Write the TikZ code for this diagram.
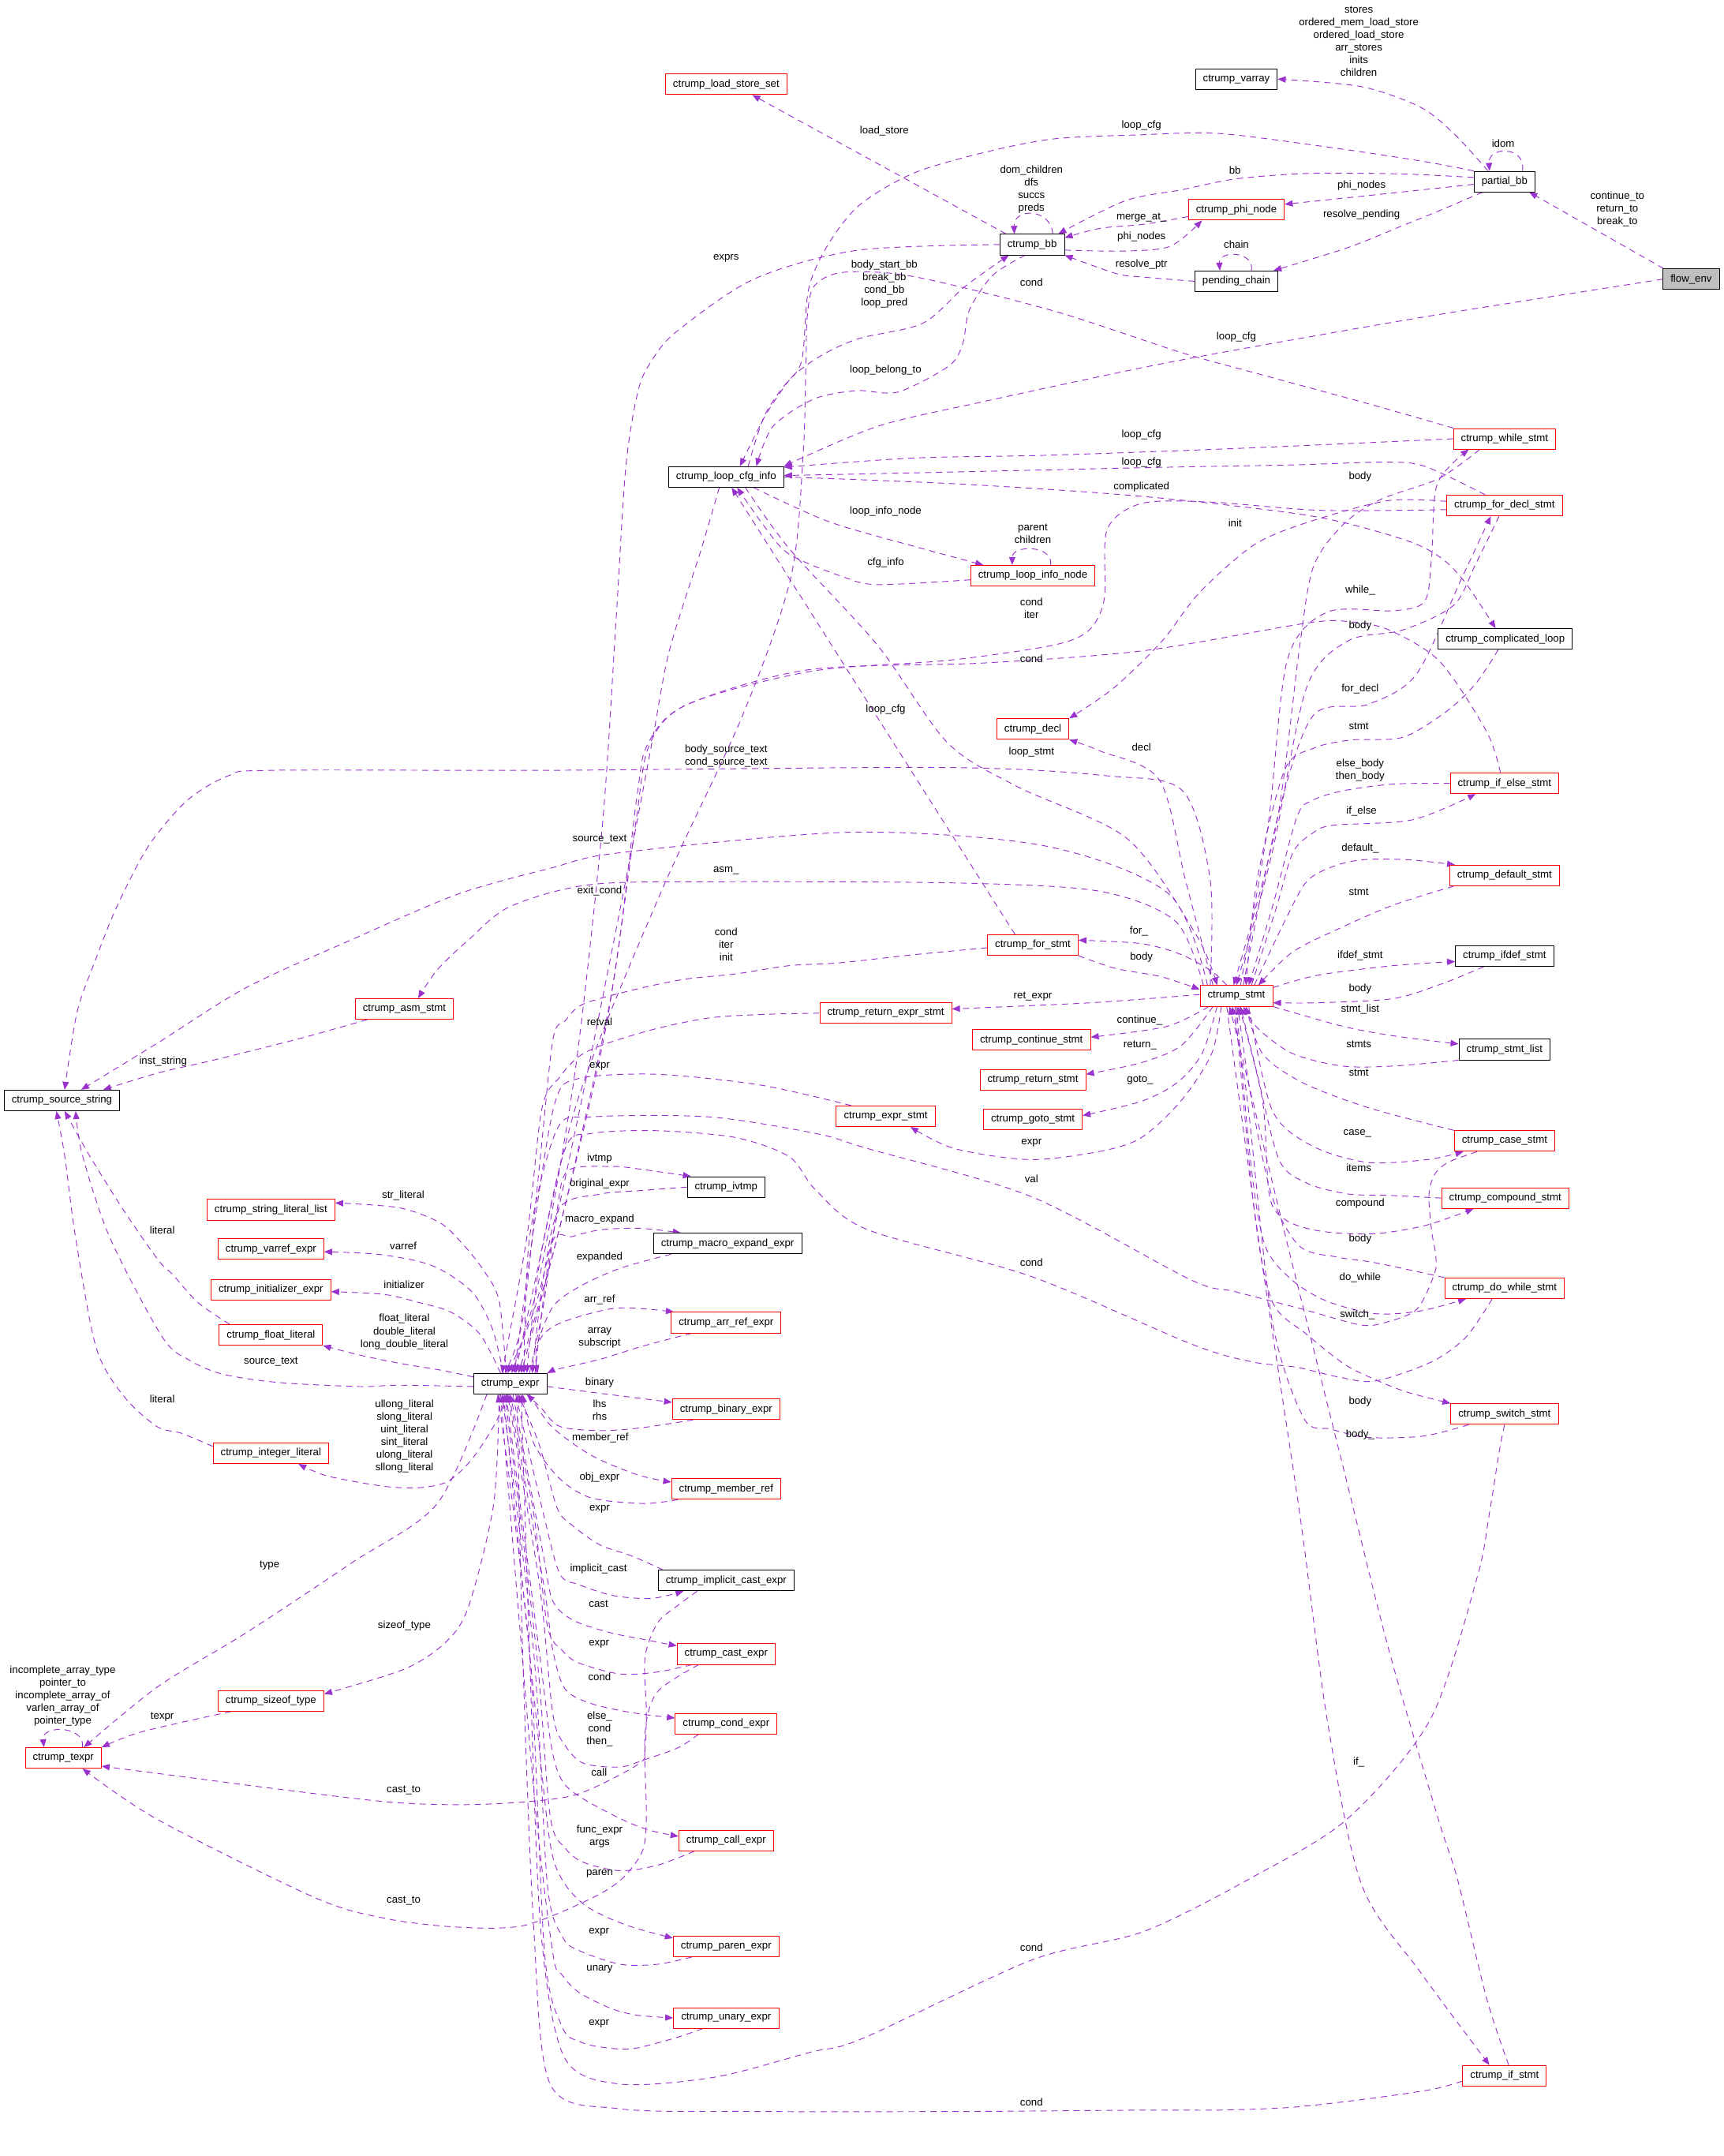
\documentclass[tikz,border=0pt]{standalone}
\usepackage{fontspec}
\setmainfont{Liberation Sans}
\usetikzlibrary{arrows.meta}
\definecolor{orch}{RGB}{154,50,205}
\definecolor{gfill}{RGB}{191,191,191}
\newcommand{\dfont}{\fontsize{7.6pt}{9.2pt}\selectfont}
\pgfdeclarelayer{bg}
\pgfsetlayers{bg,main}
\begin{document}
\begin{tikzpicture}[x=1pt,y=-1pt,
 box/.style={draw=black, line width=0.5pt, inner xsep=5.5pt, inner ysep=0pt, minimum height=15pt, font=\dfont, fill=white},
 rbox/.style={box, draw=red},
 e/.style={draw=orch, line width=0.55pt, dash pattern=on 4.5pt off 3.5pt, -{Triangle[length=5.8pt,width=4.6pt]}},
 lbl/.style={font=\dfont, inner sep=0pt, align=center}]
\useasboundingbox (0,0) rectangle (1253,1567.4);
% ---------------- nodes
\node[box] (varray) at (899,57.5) {ctrump\_varray};
\node[rbox] (lss) at (528,61.3) {ctrump\_load\_store\_set};
\node[box] (pb) at (1094,132) {partial\_bb};
\node[box] (bb) at (750.5,177.8) {ctrump\_bb};
\node[rbox] (phi) at (899,152.5) {ctrump\_phi\_node};
\node[box] (pc) at (899,204.5) {pending\_chain};
\node[box,fill=gfill] (fe) at (1229.7,203) {flow\_env};
\node[box] (lci) at (528,346.7) {ctrump\_loop\_cfg\_info};
\node[rbox] (while) at (1094,319) {ctrump\_while\_stmt};
\node[rbox] (fordecl) at (1094,367.5) {ctrump\_for\_decl\_stmt};
\node[rbox] (lin) at (751,418.5) {ctrump\_loop\_info\_node};
\node[box] (cl) at (1094.5,464.5) {ctrump\_complicated\_loop};
\node[rbox] (decl) at (751,530) {ctrump\_decl};
\node[rbox] (ifelse) at (1094,569.5) {ctrump\_if\_else\_stmt};
\node[rbox] (default) at (1094,636.5) {ctrump\_default\_stmt};
\node[rbox] (forst) at (751,687) {ctrump\_for\_stmt};
\node[box] (ifdef) at (1094,695) {ctrump\_ifdef\_stmt};
\node[rbox] (stmt) at (899,724) {ctrump\_stmt};
\node[rbox] (retexpr) at (644,736.5) {ctrump\_return\_expr\_stmt};
\node[rbox] (cont) at (750,756) {ctrump\_continue\_stmt};
\node[box] (slist) at (1094,763) {ctrump\_stmt\_list};
\node[rbox] (ret) at (751,785) {ctrump\_return\_stmt};
\node[rbox] (gotos) at (751,814) {ctrump\_goto\_stmt};
\node[rbox] (exprst) at (644,811.5) {ctrump\_expr\_stmt};
\node[rbox] (asm) at (294,733.5) {ctrump\_asm\_stmt};
\node[box] (srcstr) at (45,800) {ctrump\_source\_string};
\node[rbox] (case) at (1094,829.5) {ctrump\_case\_stmt};
\node[rbox] (compound) at (1094.5,871) {ctrump\_compound\_stmt};
\node[rbox] (dowhile) at (1094,936.5) {ctrump\_do\_while\_stmt};
\node[rbox] (switch) at (1094,1028) {ctrump\_switch\_stmt};
\node[rbox] (ifst) at (1094,1509) {ctrump\_if\_stmt};
\node[box] (ivtmp) at (528,863) {ctrump\_ivtmp};
\node[rbox] (sll) at (197,879.5) {ctrump\_string\_literal\_list};
\node[box] (mee) at (529,904) {ctrump\_macro\_expand\_expr};
\node[rbox] (varref) at (197,908) {ctrump\_varref\_expr};
\node[rbox] (init) at (197,937.5) {ctrump\_initializer\_expr};
\node[rbox] (arr) at (528,961.5) {ctrump\_arr\_ref\_expr};
\node[rbox] (float) at (197,970.5) {ctrump\_float\_literal};
\node[box] (expr) at (371,1006) {ctrump\_expr};
\node[rbox] (binary) at (528,1024.5) {ctrump\_binary\_expr};
\node[rbox] (intlit) at (197,1056.5) {ctrump\_integer\_literal};
\node[rbox] (member) at (528,1082.5) {ctrump\_member\_ref};
\node[box] (impl) at (528,1149) {ctrump\_implicit\_cast\_expr};
\node[rbox] (cast) at (528,1202.5) {ctrump\_cast\_expr};
\node[rbox] (sizeof) at (197,1236.5) {ctrump\_sizeof\_type};
\node[rbox] (condx) at (528,1253) {ctrump\_cond\_expr};
\node[rbox] (texpr) at (46,1278) {ctrump\_texpr};
\node[rbox] (call) at (528,1338) {ctrump\_call\_expr};
\node[rbox] (paren) at (528,1415) {ctrump\_paren\_expr};
\node[rbox] (unary) at (528,1467) {ctrump\_unary\_expr};
% ---------------- edges
\begin{pgfonlayer}{bg}
% top cluster
\draw[e] plot[smooth] coordinates {([xshift=-12pt]pb.north) (1058,98) (1033,78) (990,63) (varray.east)};
\draw[e] ([xshift=13pt]pb.north) .. controls (1110,106) and (1082,106) .. ([xshift=-11pt]pb.north);
\draw[e] plot[smooth] coordinates {(pb.north west) (1033,117) (966,107) (886,97) (830,98) (766,101) (715,111) (664,126) (625,149) (602,178) (588,210) (583,262) (571,280) (556,303) ([xshift=10pt]lci.north)};
\draw[e] ([xshift=15pt]bb.north) .. controls (764,151) and (737,151) .. ([xshift=-13pt]bb.north);
\draw[e] ([xshift=-19pt]bb.north) -- ([xshift=19pt]lss.south);
\draw[e] plot[smooth] coordinates {([yshift=3pt]pb.west) (1020,126.5) (953,126) (899,130) (859,138) (818,146) ([xshift=19pt]bb.north)};
\draw[e] plot[smooth] coordinates {([yshift=-2pt]pb.west) (1006,141) ([yshift=4pt]phi.east)};
\draw[e] plot[smooth] coordinates {([xshift=-16pt]pb.south) (1047,153) (1020,164) (980,180) ([xshift=27pt]pc.north)};
\draw[e] ([xshift=-20pt]fe.north) -- ([xshift=18pt]pb.south);
\draw[e] plot[smooth] coordinates {(fe.west) (1044,229) (912,252) (832,267) (715,292) (638,310) (lci.north east)};
\draw[e] plot[smooth] coordinates {([yshift=-5pt]phi.west) (832,163) (800,166) ([yshift=5pt]bb.east)};
\draw[e] plot[smooth] coordinates {([yshift=-4pt]bb.east) (818,182.5) (851,179) ([xshift=-25pt]phi.south)};
\draw[e] plot[smooth] coordinates {(pc.west) (832,201.5) (812,199) (bb.south east)};
\draw[e] ([xshift=11pt]pc.north) .. controls (912,182) and (886,182) .. ([xshift=-12pt]pc.north);
% loop cfg region
\draw[e] plot[smooth] coordinates {([xshift=-5pt]bb.south) (722,200) (705,225) (700,250) (690,266) (653,285) (623,284) (592,290) (562,310) ([xshift=22pt]lci.north)};
\draw[e] plot[smooth] coordinates {([xshift=16pt]lci.north) (556,302) (575,275) (598,258) (625,246) (671,235) (702,208) ([xshift=-17pt]bb.south)};
\draw[e] plot[smooth] coordinates {([xshift=-37pt]while.north) (993,293) (912,271) (858,256) (766,226) (664,201) (613,198) (592,208) (587,230) (586,264) (584,330) (575,420) (540,520) (480,650) (420,800) (385,950) ([xshift=4pt]expr.north)};
\draw[e] plot[smooth] coordinates {(bb.west) (623,182) (548,203) (492,241) (474,262) (464,284) (455,340) (448,450) (438,600) (418,780) (392,930) ([xshift=1pt]expr.north)};
\draw[e] plot[smooth] coordinates {([xshift=-5pt]lci.south) (510,399) (497,439) (485,480) (474,540) (455,640) (425,790) (392,940) ([xshift=-2pt]expr.north)};
\draw[e] plot[smooth] coordinates {(while.west) (900,326) (760,331) (664,333) ([yshift=7pt]lci.east)};
\draw[e] plot[smooth] coordinates {([xshift=-14pt]fordecl.north) (1036,339) (1006,336) (939,338) (832,340) (700,343) ([yshift=1pt]lci.east)};
\draw[e] plot[smooth] coordinates {(lci.east) (700,352) (832,361) (953,375) (1020,392) (1047,405) (1065,423) ([xshift=-7pt]cl.north)};
\draw[e] plot[smooth] coordinates {([xshift=20pt]lci.south) (602,379) (664,397) ([xshift=-36pt]lin.north)};
\draw[e] plot[smooth] coordinates {([yshift=-3pt]lin.west) (638,425) (612,419) (574,403) (556,383) ([xshift=8pt]lci.south)};
\draw[e] ([xshift=13pt]lin.north) .. controls (766,396) and (736,396) .. ([xshift=-15pt]lin.north);
\draw[e] ([xshift=-13pt]forst.north) -- ([xshift=4pt]lci.south);
\draw[e] plot[smooth] coordinates {([xshift=14pt]lci.south) (574,399) (638,469) (689,540) (740,572) (820,610) (870,680) ([xshift=-14pt]stmt.north)};
\draw[e] plot[smooth] coordinates {([yshift=3pt]fordecl.west) (1009,364) (953,379) (912,396) (872,431) (845,466) (810,500) (decl.north east)};
\draw[e] plot[smooth] coordinates {([yshift=-3pt]fordecl.west) (960,371) (880,365) (830,366) (805,385) (803,435) (792,458) (766,469) (690,480) (590,488) (500,512) (472,542) (462,600) (440,750) (405,900) ([xshift=6pt]expr.north)};
\draw[e] plot[smooth] coordinates {([xshift=-3pt]ifelse.north) (1081,532) (1047,481) (1010,458) (982,452) (950,453) (832,473) (715,482) (587,487) (498,513) (471,541) (463,580) (445,720) (410,880) ([xshift=8pt]expr.north)};
% stmt right side
\draw[e] plot[smooth] coordinates {([xshift=-18pt]while.south) (1046,348) (1004,363) (977,381) (955,412) (945,470) (928,600) ([xshift=-2pt]stmt.north)};
\draw[e] plot[smooth] coordinates {([xshift=3pt]stmt.north) (922,600) (936,480) (965,445) (1014,444) (1036,437) (1041,405) (1045,352) ([xshift=-26pt]while.south)};
\draw[e] plot[smooth] coordinates {([xshift=-4pt]fordecl.south) (1073,410) (1057,440) (1020,458) (980,466) (950,500) (925,620) (stmt.north)};
\draw[e] plot[smooth] coordinates {([xshift=5pt]stmt.north) (930,590) (955,520) (995,512) (1030,490) (1063,420) ([xshift=-10pt]fordecl.south)};
\draw[e] plot[smooth] coordinates {([xshift=-5pt]cl.south) (1073,497) (1052,517) (1020,536) (982,538) (955,544) (934,560) (914,640) ([xshift=7pt]stmt.north)};
\draw[e] plot[smooth] coordinates {(ifelse.west) (1013,570) (976,575) (954,582) (943,594) (925,660) ([xshift=9pt]stmt.north)};
\draw[e] plot[smooth] coordinates {([xshift=11pt]stmt.north) (928,660) (940,620) (954,606) (969,600) (1027,596) ([xshift=-21pt]ifelse.south)};
\draw[e] plot[smooth] coordinates {([xshift=13pt]stmt.north) (934,670) (950,641) (969,630) (991,625) (1024,625) ([xshift=-36pt]default.north)};
\draw[e] plot[smooth] coordinates {([xshift=-37pt]default.south) (1013,658) (976,674) (940,692) ([xshift=16pt]stmt.north)};
\draw[e] plot[smooth] coordinates {([yshift=6pt]stmt.east) (958,709) (1013,702) ([yshift=-4pt]ifdef.west)};
\draw[e] plot[smooth] coordinates {([xshift=-15pt]ifdef.south) (1049,715) (1013,726) (958,729) ([yshift=-5pt]stmt.east)};
\draw[e] plot[smooth] coordinates {(stmt.south east) (976,746) (1013,753) ([yshift=4pt]slist.west)};
\draw[e] plot[smooth] coordinates {(slist.south west) (1013,775) (976,775) (940,766) (915,748) ([xshift=5pt]stmt.south)};
\draw[e] plot[smooth] coordinates {(case.north west) (994,805) (947,787) (918,766) ([xshift=7pt]stmt.south)};
\draw[e] plot[smooth] coordinates {([xshift=9pt]stmt.south) (925,807) (954,833) (994,845) (1038,843) ([xshift=-30pt]case.south)};
\draw[e] plot[smooth] coordinates {(compound.west) (1010,869) (980,868) (950,860) (930,843) (914,780) ([xshift=3pt]stmt.south)};
\draw[e] plot[smooth] coordinates {([xshift=2pt]stmt.south) (918,800) (923,869) (935,887) (960,895) (998,897) (1036,891) ([xshift=-23pt]compound.south)};
\draw[e] plot[smooth] coordinates {(dowhile.north west) (1000,918) (973,914) (945,906) (925,870) (910,800) ([xshift=1pt]stmt.south)};
\draw[e] plot[smooth] coordinates {(stmt.south) (910,850) (920,906) (940,931) (965,946) (1000,955) (1033,953) ([xshift=-28pt]dowhile.south)};
\draw[e] plot[smooth] coordinates {([xshift=-1pt]stmt.south) (912,880) (925,946) (950,970) (978,992) (1000,1003) (1023,1012) (switch.north west)};
\draw[e] plot[smooth] coordinates {([xshift=-26pt]switch.south) (1035,1044) (995,1045) (968,1039) (948,1031) (925,960) (907,800) ([xshift=-3pt]stmt.south)};
\draw[e] plot[smooth] coordinates {([xshift=3pt]ifst.north) (1081,1453) (1060,1367) (1046,1323) (1010,1200) (975,1060) (935,900) (906,780) ([xshift=-5pt]stmt.south)};
\draw[e] plot[smooth] coordinates {([xshift=-7pt]stmt.south) (915,900) (945,1100) (965,1250) (990,1370) (1033,1434) ([xshift=-11pt]ifst.north)};
\draw[e] plot[smooth] coordinates {([xshift=-20pt]case.south) (1053,845) (1043,854) (1039,869) (1041,895) (1044,913) (1043,926) (1030,952) (1005,962) (988,963) (948,952) (898,939) (865,930) (750,870) (631,835) (593,824) (516,812) (430,812) (405,821) (385,900) ([xshift=10pt]expr.north)};
\draw[e] plot[smooth] coordinates {([xshift=-9pt]dowhile.south) (1066,972) (1041,990) (1000,1004) (973,1001) (943,994) (910,990) (866,977) (750,928) (631,894) (593,865) (574,841) (535,827) (478,822) (430,824) (411,835) (392,920) ([xshift=12pt]expr.north)};
\draw[e] plot[smooth] coordinates {(switch.south) (1090,1056) (1083,1100) (1074,1147) (1040,1250) (980,1322) (912,1364) (832,1404) (750,1425) (627,1482) (589,1492) (520,1510) (450,1515) (410,1495) (393,1400) (385,1200) ([xshift=8pt]expr.south)};
\draw[e] plot[smooth] coordinates {([yshift=-4pt]ifst.west) (1041,1519) (993,1526) (939,1532) (886,1534) (832,1534) (700,1535) (550,1535) (450,1533) (400,1515) (388,1400) (380,1200) ([xshift=5pt]expr.south)};
% stmt left side
\draw[e] plot[smooth] coordinates {([xshift=-7pt]stmt.north) (881,706) (859,694) (830,686) ([yshift=3.5pt]forst.east)};
\draw[e] plot[smooth] coordinates {(forst.south east) (811,704) (844,710) ([yshift=-3pt]stmt.north west)};
\draw[e] plot[smooth] coordinates {([yshift=1pt]stmt.west) (793,729) ([yshift=3pt]retexpr.east)};
\draw[e] plot[smooth] coordinates {([xshift=-20pt]stmt.south) (848,746.3) ([yshift=2pt]cont.east)};
\draw[e] plot[smooth] coordinates {([xshift=-17pt]stmt.south) (859,760) (830,772.5) ([yshift=4pt]ret.east)};
\draw[e] plot[smooth] coordinates {([xshift=-14pt]stmt.south) (874,766) (856,787) (830,800.6) ([yshift=3pt]gotos.east)};
\draw[e] plot[smooth] coordinates {([xshift=-11pt]stmt.south) (881,766) (859,800) (830,827) (800,837) (749,843) (694,835) ([xshift=18pt]exprst.south)};
\draw[e] plot[smooth] coordinates {([xshift=-17pt]stmt.north) (862,640) (843,567) (800,546) (decl.south east)};
\draw[e] plot[smooth] coordinates {([xshift=-24pt]stmt.north) (855,670) (800,648) (700,642) (528,641) (430,643) (371,659) (341,683) (318,705) ([xshift=10pt]asm.north)};
\draw[e] plot[smooth] coordinates {([xshift=-21pt]stmt.north) (850,650) (760,615) (620,605) (450,620) (401,631) (333,650) (256,683) (179,718) (115,758) ([xshift=14pt]srcstr.north)};
\draw[e] plot[smooth] coordinates {([xshift=-19pt]stmt.north) (880,640) (860,575) (805,564) (690,558) (400,560) (197,560) (166,564) (136,582) (108,615) (85,659) (69,699) (56,736) ([xshift=2pt]srcstr.north)};
\draw[e] plot[smooth] coordinates {([yshift=-2pt]forst.west) (665,694) (610,700) (574,702) (535,708) (497,712) (459,720) (424,730) (411,742) (402,756) (392,850) (380,960) ([xshift=-4pt]expr.north)};
\draw[e] plot[smooth] coordinates {(retexpr.west) (554,737.5) (516,740) (478,747.6) (440,759) (421,768) (407,783) (394,806) (383,900) ([xshift=-6pt]expr.north)};
\draw[e] plot[smooth] coordinates {([xshift=-25pt]exprst.north) (554,789) (478,781) (421,784) (404,800) (390,880) ([xshift=3pt]expr.north)};
% left cluster
\draw[e] plot[smooth] coordinates {([xshift=-27pt]asm.south) (218,755) (154,771) (115,780) ([xshift=30pt]srcstr.north)};
\draw[e] plot[smooth] coordinates {([yshift=-2pt]expr.west) (290,1007) (261,1008) (202,1005) (162,999) (138,989) (118,972) (80,900) (60,840) ([xshift=10pt]srcstr.south)};
\draw[e] plot[smooth] coordinates {([xshift=-30pt]float.north) (144,947) (126,927) (115,916) (90,880) (65,840) ([xshift=2pt]srcstr.south)};
\draw[e] plot[smooth] coordinates {([yshift=5pt]intlit.west) (132,1042) (114,1037) (90,1015) (70,980) (55,900) (47,840) ([xshift=-4pt]srcstr.south)};
\draw[e] plot[smooth] coordinates {([xshift=-17pt]expr.south) (318,1093) (256,1136) (179,1187) (115,1226) ([xshift=15pt]texpr.north)};
\draw[e] plot[smooth] coordinates {([xshift=-8pt]expr.south) (359,1093) (341,1167) (325,1193) (295,1213) ([yshift=5pt]sizeof.east)};
\draw[e] plot[smooth] coordinates {([xshift=-29pt]sizeof.south) (103,1259) (texpr.north east)};
\draw[e] ([xshift=14pt]texpr.north) .. controls (62,1254) and (30,1254) .. ([xshift=-14pt]texpr.north);
\draw[e] plot[smooth] coordinates {([xshift=-21pt]impl.south) (493,1167) (478,1180) (469,1205) (470,1244) (469,1270) (465,1282) (421,1304) (381,1310) (333,1312) (282,1310) (205,1301) (128,1291) ([yshift=-6pt]texpr.east)};
\draw[e] plot[smooth] coordinates {([xshift=-20pt]cast.south) (478,1230) (469,1260) (470,1320) (467,1346) (451,1367) (426,1382) (380,1400) (333,1401) (282,1395) (230,1380) (115,1323) ([xshift=14pt]texpr.south)};
% expr right cluster
\draw[e] plot[smooth] coordinates {([xshift=14pt]expr.north) (395,950) (405,880) (413,851) (445,848) (466,850) ([xshift=3pt]ivtmp.north west)};
\draw[e] plot[smooth] coordinates {(ivtmp.west) (466,865.5) (437,868) (407,878) (395,930) ([xshift=16pt]expr.north)};
\draw[e] plot[smooth] coordinates {([xshift=18pt]expr.north) (401,905) (416,899) (437,894) (466,893) ([xshift=-34pt]mee.north)};
\draw[e] plot[smooth] coordinates {([xshift=-41pt]mee.south) (451,922) (422,935) (402,950) (390,980) ([xshift=20pt]expr.north)};
\draw[e] plot[smooth] coordinates {([xshift=19pt]expr.north) (392,975) (407,962) (448,951) ([xshift=-38pt]arr.north)};
\draw[e] plot[smooth] coordinates {([xshift=-25pt]arr.south) (466,979) (437,988) (407,995) (expr.north east)};
\draw[e] plot[smooth] coordinates {([yshift=-2pt]expr.east) (437,1013) ([yshift=5pt]binary.west)};
\draw[e] plot[smooth] coordinates {([xshift=-24pt]binary.south) (466,1038) (437,1040) (407,1037) (393,1023) ([xshift=12pt]expr.south)};
\draw[e] plot[smooth] coordinates {([xshift=14pt]expr.south) (401,1037) (430,1058) (463,1072) ([yshift=5pt]member.west)};
\draw[e] plot[smooth] coordinates {([xshift=-35pt]member.south) (468,1093) (430,1089) (407,1075) (388,1049) ([xshift=9pt]expr.south)};
\draw[e] plot[smooth] coordinates {([xshift=-46pt]impl.north) (459,1131) (436,1123) (415,1108) (405,1096) (392,1050) ([xshift=6pt]expr.south)};
\draw[e] plot[smooth] coordinates {([xshift=4pt]expr.south) (395,1100) (407,1144) (421,1152) (446,1160) (474,1162) ([xshift=-31pt]impl.south)};
\draw[e] plot[smooth] coordinates {([xshift=2pt]expr.south) (395,1130) (402,1164) (417,1178) (444,1187) (469,1192) ([yshift=6pt]cast.west)};
\draw[e] plot[smooth] coordinates {([xshift=-25pt]cast.south) (478,1215.5) (451,1217) (421,1209) (409,1200) (398,1182) (388,1100) (expr.south)};
\draw[e] plot[smooth] coordinates {([xshift=-1pt]expr.south) (395,1150) (402,1200) (411,1228) (430,1238.5) (459,1245) ([yshift=4pt]condx.west)};
\draw[e] plot[smooth] coordinates {([xshift=-20pt]condx.south) (493,1270.6) (468,1279.5) (451,1284.6) (424.5,1282) (411,1269) (402,1246) (392,1150) ([xshift=-2pt]expr.south)};
\draw[e] plot[smooth] coordinates {([xshift=-3pt]expr.south) (392,1200) (401,1270) (409,1295) (424.5,1308) (455,1324) (474,1331) ([yshift=3pt]call.west)};
\draw[e] plot[smooth] coordinates {([xshift=-23pt]call.south) (478,1356) (451,1360) (424.5,1354) (411,1343.5) (400,1320) (390,1200) ([xshift=-4pt]expr.south)};
\draw[e] plot[smooth] coordinates {([xshift=-5pt]expr.south) (390,1250) (400,1340) (409,1367) (424.5,1384.5) (444,1395) (463,1402) ([yshift=6pt]paren.west)};
\draw[e] plot[smooth] coordinates {([xshift=-25pt]paren.south) (478,1428) (451,1428) (421,1418) (409,1408) (398,1370) (388,1200) ([xshift=-6pt]expr.south)};
\draw[e] plot[smooth] coordinates {([xshift=-7pt]expr.south) (388,1300) (402,1420) (409,1436) (421,1448.5) (444,1460) (463,1465) (unary.west)};
\draw[e] plot[smooth] coordinates {([xshift=-17pt]unary.south) (489.5,1482) (459,1489.5) (436,1488) (421,1484) (409,1474) (396,1420) (385,1200) ([xshift=-9pt]expr.south)};
% expr left cluster
\draw[e] plot[smooth] coordinates {([xshift=-3pt]expr.north) (363,946) (352,924) (337,905) (320,889) (290,878) ([yshift=5pt]sll.east)};
\draw[e] plot[smooth] coordinates {([xshift=-5pt]expr.north) (358,966) (343,939) (314,920) (276,912) ([yshift=-2pt]varref.east)};
\draw[e] plot[smooth] coordinates {([xshift=-7pt]expr.north) (349,970) (328,954) (305,947) (279,941) ([yshift=-1.5pt]init.east)};
\draw[e] plot[smooth] coordinates {([yshift=5pt]expr.west) (320,996) (290,991) (261,985) (float.south east)};
\draw[e] plot[smooth] coordinates {([xshift=-2pt]expr.south) (360,1035) (343,1061) (325.5,1077) (305,1081.5) (279,1080.5) (238,1073) ([xshift=20pt]intlit.south)};
\end{pgfonlayer}
% ---------------- labels
\node[lbl] (l1) at (988,30) {stores\\ordered\_mem\_load\_store\\ordered\_load\_store\\arr\_stores\\inits\\children};
\node[lbl] (l2) at (1093,104.5) {idom};
\node[lbl] (l3) at (830,91) {loop\_cfg};
\node[lbl] (l4) at (750,137.5) {dom\_children\\dfs\\succs\\preds};
\node[lbl] (l5) at (643,95) {load\_store};
\node[lbl] (l6) at (898,124) {bb};
\node[lbl] (l7) at (990,135) {phi\_nodes};
\node[lbl] (l8) at (990,156) {resolve\_pending};
\node[lbl] (l9) at (1176,152) {continue\_to\\return\_to\\break\_to};
\node[lbl] (l10) at (899,245) {loop\_cfg};
\node[lbl] (l11) at (830,158) {merge\_at\_};
\node[lbl] (l12) at (830,172) {phi\_nodes};
\node[lbl] (l13) at (830,192) {resolve\_ptr};
\node[lbl] (l14) at (899,178) {chain};
\node[lbl] (l15) at (644,269) {loop\_belong\_to};
\node[lbl] (l16) at (643,206.4) {body\_start\_bb\\break\_bb\\cond\_bb\\loop\_pred};
\node[lbl] (l17) at (750,205) {cond};
\node[lbl] (l18) at (528,188) {exprs};
\node[lbl] (l19) at (436,648) {exit\_cond};
\node[lbl] (l20) at (830,316) {loop\_cfg};
\node[lbl] (l21) at (830,336.5) {loop\_cfg};
\node[lbl] (l22) at (830,354) {complicated};
\node[lbl] (l23) at (644,372) {loop\_info\_node};
\node[lbl] (l24) at (644,409) {cfg\_info};
\node[lbl] (l25) at (751,388) {parent\\children};
\node[lbl] (l26) at (644,516) {loop\_cfg};
\node[lbl] (l27) at (750,547) {loop\_stmt};
\node[lbl] (l28) at (898,380) {init};
\node[lbl] (l29) at (750,442.2) {cond\\iter};
\node[lbl] (l30) at (750,479) {cond};
\node[lbl] (l31) at (989,346.5) {body};
\node[lbl] (l32) at (989,429) {while\_};
\node[lbl] (l33) at (989,455) {body};
\node[lbl] (l34) at (989,501) {for\_decl};
\node[lbl] (l35) at (988,528) {stmt};
\node[lbl] (l36) at (989,559.8) {else\_body\\then\_body};
\node[lbl] (l37) at (990,590) {if\_else};
\node[lbl] (l38) at (989,617) {default\_};
\node[lbl] (l39) at (988,648.7) {stmt};
\node[lbl] (l40) at (989,695) {ifdef\_stmt};
\node[lbl] (l41) at (989,718.7) {body};
\node[lbl] (l42) at (989,733.6) {stmt\_list};
\node[lbl] (l43) at (988,759.4) {stmts};
\node[lbl] (l44) at (988,780) {stmt};
\node[lbl] (l45) at (987,823.8) {case\_};
\node[lbl] (l46) at (988,849) {items};
\node[lbl] (l47) at (989,875) {compound};
\node[lbl] (l48) at (989,901) {body};
\node[lbl] (l49) at (989,929) {do\_while};
\node[lbl] (l50) at (987,956) {switch\_};
\node[lbl] (l51) at (989,1019) {body};
\node[lbl] (l52) at (989,1043) {body\_};
\node[lbl] (l53) at (988,1281) {if\_};
\node[lbl] (l54) at (750,857) {val};
\node[lbl] (l55) at (750,918) {cond};
\node[lbl] (l56) at (750,1416) {cond};
\node[lbl] (l57) at (750,1528) {cond};
\node[lbl] (l58) at (828,677) {for\_};
\node[lbl] (l59) at (830,696) {body};
\node[lbl] (l60) at (751,724.6) {ret\_expr};
\node[lbl] (l61) at (828.7,741.7) {continue\_};
\node[lbl] (l62) at (829,760) {return\_};
\node[lbl] (l63) at (829,785) {goto\_};
\node[lbl] (l64) at (750,830.8) {expr};
\node[lbl] (l65) at (830,543) {decl};
\node[lbl] (l66) at (528,633) {asm\_};
\node[lbl] (l67) at (436,610) {source\_text};
\node[lbl] (l68) at (528,549.5) {body\_source\_text\\cond\_source\_text};
\node[lbl] (l69) at (528,686.4) {cond\\iter\\init};
\node[lbl] (l70) at (436,743) {retval};
\node[lbl] (l71) at (436,775) {expr};
\node[lbl] (l72) at (118.6,771.5) {inst\_string};
\node[lbl] (l73) at (197,990) {source\_text};
\node[lbl] (l74) at (118,894.5) {literal};
\node[lbl] (l75) at (118,1017) {literal};
\node[lbl] (l76) at (196,1138) {type};
\node[lbl] (l77) at (294,1182) {sizeof\_type};
\node[lbl] (l78) at (118,1248) {texpr};
\node[lbl] (l79) at (45.6,1233) {incomplete\_array\_type\\pointer\_to\\incomplete\_array\_of\\varlen\_array\_of\\pointer\_type};
\node[lbl] (l80) at (293.5,1301.5) {cast\_to};
\node[lbl] (l81) at (293.5,1381.6) {cast\_to};
\node[lbl] (l82) at (436,842.4) {ivtmp};
\node[lbl] (l83) at (436,860.6) {original\_expr};
\node[lbl] (l84) at (436,886.4) {macro\_expand};
\node[lbl] (l85) at (436,913.7) {expanded};
\node[lbl] (l86) at (436,944.7) {arr\_ref};
\node[lbl] (l87) at (436,972.4) {array\\subscript};
\node[lbl] (l88) at (436,1005) {binary};
\node[lbl] (l89) at (436,1025) {lhs\\rhs};
\node[lbl] (l90) at (436.5,1045.6) {member\_ref};
\node[lbl] (l91) at (436,1074.3) {obj\_expr};
\node[lbl] (l92) at (436,1097.4) {expr};
\node[lbl] (l93) at (435.2,1140.7) {implicit\_cast};
\node[lbl] (l94) at (435.2,1166) {cast};
\node[lbl] (l95) at (435.6,1195.3) {expr};
\node[lbl] (l96) at (436,1218.8) {cond};
\node[lbl] (l97) at (436,1257.2) {else\_\\cond\\then\_};
\node[lbl] (l98) at (435.6,1288.7) {call};
\node[lbl] (l99) at (436,1335) {func\_expr\\args};
\node[lbl] (l100) at (436,1362) {paren};
\node[lbl] (l101) at (435.6,1404.7) {expr};
\node[lbl] (l102) at (436,1431.6) {unary};
\node[lbl] (l103) at (435.6,1471.3) {expr};
\node[lbl] (l104) at (293.2,869.2) {str\_literal};
\node[lbl] (l105) at (293.2,905.5) {varref};
\node[lbl] (l106) at (293.8,933.6) {initializer};
\node[lbl] (l107) at (294,968.2) {float\_literal\\double\_literal\\long\_double\_literal};
\node[lbl] (l108) at (294.1,1044.2) {ullong\_literal\\slong\_literal\\uint\_literal\\sint\_literal\\ulong\_literal\\sllong\_literal};
\end{tikzpicture}
\end{document}
